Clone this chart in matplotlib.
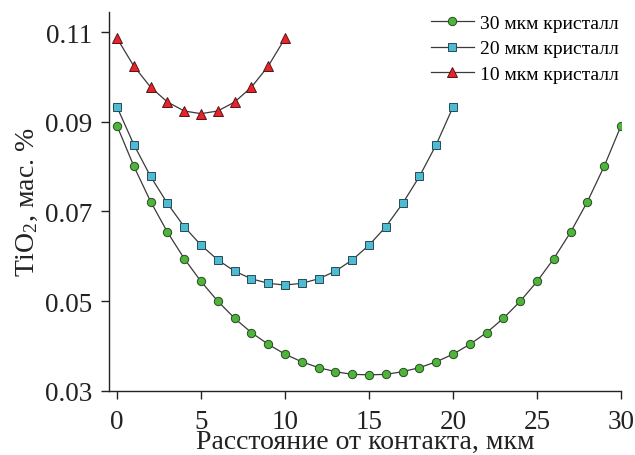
import matplotlib
matplotlib.use("Agg")
import matplotlib.pyplot as plt

plt.rcParams['font.family'] = ['Liberation Serif', 'DejaVu Serif']
plt.rcParams['mathtext.fontset'] = 'custom'
plt.rcParams['mathtext.rm'] = 'Liberation Serif'
plt.rcParams['mathtext.it'] = 'Liberation Serif:italic'

x30 = list(range(0, 31))
y30 = [0.0891, 0.0801, 0.0722, 0.0654, 0.0595, 0.0544, 0.0500, 0.0462, 0.0430, 0.0404,
       0.0382, 0.0365, 0.0352, 0.0343, 0.0337, 0.0336, 0.0337, 0.0343, 0.0352, 0.0365,
       0.0382, 0.0404, 0.0430, 0.0462, 0.0500, 0.0544, 0.0595, 0.0654, 0.0722, 0.0801, 0.0891]
x20 = list(range(0, 21))
y20 = [0.0933, 0.0849, 0.0778, 0.0718, 0.0666, 0.0625, 0.0592, 0.0567, 0.0550, 0.0540,
       0.0536, 0.0540, 0.0550, 0.0567, 0.0592, 0.0625, 0.0666, 0.0718, 0.0778, 0.0849, 0.0933]
x10 = list(range(0, 11))
y10 = [0.1086, 0.1024, 0.0977, 0.0944, 0.0924, 0.0918, 0.0924, 0.0944, 0.0977, 0.1024, 0.1086]

labels = ["30 мкм кристалл", "20 мкм кристалл", "10 мкм кристалл"]
xticks = [0, 5, 10, 15, 20, 25, 30]
yticks = [0.03, 0.05, 0.07, 0.09, 0.11]
ytick_labels = ["0.03", "0.05", "0.07", "0.09", "0.11"]

fig = plt.figure(figsize=(6.35, 4.56), dpi=100)
ax = fig.add_axes([0.1717, 0.1404, 0.8063, 0.8311])

lc = '#3a3a3a'
ax.plot(x30, y30, '-', color=lc, lw=0.9, marker='o', ms=6.0, mfc='#4db53a', mec='#2a4a24', mew=0.7, label=labels[0])
ax.plot(x20, y20, '-', color=lc, lw=0.9, marker='s', ms=5.3, mfc='#4dbcd2', mec='#2a4a55', mew=0.7, label=labels[1])
ax.plot(x10, y10, '-', color=lc, lw=0.9, marker='^', ms=7.0, mfc='#e8242a', mec='#551515', mew=0.7, label=labels[2])

ax.set_xlim(-0.476, 30)
ax.set_ylim(0.03, 0.11446)
ax.set_xticks(xticks)
ax.set_yticks(yticks)
ax.set_yticklabels(ytick_labels)
ax.spines['top'].set_visible(False)
ax.spines['right'].set_visible(False)
ax.spines['bottom'].set_bounds(-0.476, 30)
for s in ['left', 'bottom']:
    ax.spines[s].set_linewidth(1.0)
    ax.spines[s].set_color('#222222')
ax.tick_params(direction='out', length=6, width=1.0, colors='#222222', labelsize=19.5)
ax.tick_params(axis='x', pad=7)
ax.tick_params(axis='y', pad=6)

ax.set_xlabel("Расстояние от контакта, мкм", fontsize=20, color='#222222', va='bottom')
ax.xaxis.set_label_coords(365 / 635, 1.5 / 456, transform=fig.transFigure)
ax.set_ylabel("TiO$_2$, мас. %", fontsize=20, labelpad=4, color='#222222')

leg = ax.legend(loc='upper right', frameon=False, fontsize=14, handlelength=2.2,
                handletextpad=0.3, labelspacing=0.4, borderaxespad=0.0,
                bbox_to_anchor=(1.01, 1.014))

fig.savefig("out.png", dpi=100)
